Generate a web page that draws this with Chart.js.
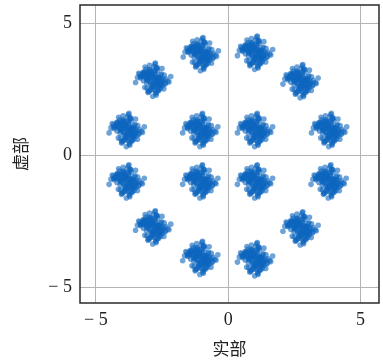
<!DOCTYPE html>
<html>
<head>
<meta charset="utf-8">
<script src="https://cdn.jsdelivr.net/npm/chart.js@4"></script>
<style>
  html, body { margin: 0; padding: 0; background: #fff; }
  #wrap { width: 383px; height: 363px; }
</style>
</head>
<body>
<div id="wrap"><canvas id="c" width="383" height="363"></canvas></div>
<script>
// 16-APSK constellation: ideal symbol positions (real, imaginary)
const centerRe = [-1.05, 1.0, -2.85, 2.72, -3.85, 3.8, -3.85, 3.78, -2.85, 2.72, -1.07, 1.0, -1.07, 1.0, -1.07, 1.0];
const centerIm = [3.83, 3.88, 2.86, 2.8, 0.95, 0.95, -1.0, -1.0, -2.74, -2.78, -3.9, -3.95, 0.95, 0.95, -1.0, -1.0];

// received-sample noise around each symbol
const noiseRe = [
  0.03, -0.20, 0.27, -0.10, 0.43, -0.35, 0.14, -0.03, 0.22, -0.47,
  0.08, 0.33, -0.25, 0.12, -0.14, 0.49, -0.07, 0.18, -0.30, 0.38,
  -0.40, 0.05, -0.17, 0.25, 0.00, -0.53, 0.29, -0.09, 0.16, -0.23,
  0.35, -0.04, 0.10, -0.33, 0.46, -0.18, 0.21, -0.12, 0.57, -0.27,
  0.04, -0.43, 0.23, 0.09, -0.16, 0.31, -0.36, 0.13, -0.01, 0.40,
  -0.22, 0.17, -0.08, 0.26, -0.49, 0.07, 0.34, -0.13, 0.20, -0.31,
  0.12, -0.39, 0.01, 0.48, -0.21, 0.30, -0.05, 0.14, -0.26, 0.36,
  -0.10, 0.61, -0.34, 0.18, -0.46, 0.08, 0.25, -0.17, 0.42, -0.03,
  0.16, -0.29, 0.05, -0.58, 0.33, -0.14, 0.22, 0.68, -0.65, 0.10,
  -0.08, 0.27, -0.38, 0.00, 0.20, -0.23, 0.06, -0.11, 0.15, -0.02,
  0.09, -0.19, 0.24, -0.07, 0.11, -0.15, 0.02, 0.19, -0.04, 0.13,
  -0.09, 0.07, -0.24, 0.31, -0.28, 0.04, -0.01, 0.10, -0.13, 0.17
];
const noiseIm = [
  -0.14, 0.31, 0.07, -0.39, 0.18, -0.03, 0.47, -0.25, -0.35, 0.12,
  0.27, -0.10, 0.40, -0.52, 0.22, 0.04, -0.17, 0.36, -0.29, -0.07,
  0.16, 0.51, -0.44, 0.09, -0.21, 0.25, -0.33, 0.34, 0.01, -0.12,
  0.43, -0.36, 0.20, 0.29, -0.16, -0.48, 0.08, 0.55, -0.04, 0.23,
  -0.26, 0.13, -0.40, 0.35, 0.05, -0.20, 0.30, -0.57, 0.17, 0.00,
  -0.31, 0.46, 0.10, -0.23, 0.21, -0.38, 0.03, 0.39, -0.09, 0.26,
  -0.47, 0.14, 0.33, -0.13, -0.01, 0.18, -0.30, 0.44, 0.12, -0.22,
  0.38, -0.08, 0.25, -0.42, 0.07, 0.60, -0.18, 0.27, -0.34, 0.16,
  -0.05, 0.49, -0.27, 0.09, 0.22, -0.43, 0.04, 0.13, -0.10, 0.64,
  0.31, -0.16, 0.20, -0.62, -0.25, 0.08, 0.04, -0.08, 0.12, 0.18,
  -0.14, 0.02, -0.20, 0.09, -0.03, 0.15, -0.11, 0.06, 0.21, -0.17,
  -0.05, 0.11, 0.03, -0.12, 0.14, -0.22, 0.08, -0.02, 0.19, -0.06
];

const tickValues = [-5, 0, 5];
const tickLabels = ['\u2212 5', '0', '5'];
const xTitle = '实部';
const yTitle = '虚部';

// received samples = symbol + noise
const samples = [];
for (let k = 0; k < centerRe.length; k++) {
  for (let i = 0; i < noiseRe.length; i++) {
    samples.push({ x: centerRe[k] + noiseRe[i], y: centerIm[k] + noiseIm[i] });
  }
}

// closes the plot box on the top and right sides
const frame = {
  id: 'frame',
  afterDraw(chart) {
    const a = chart.chartArea, ctx = chart.ctx;
    ctx.save();
    ctx.strokeStyle = '#2a2a2a';
    ctx.lineWidth = 1.5;
    ctx.strokeRect(a.left, a.top, a.right - a.left, a.bottom - a.top);
    ctx.restore();
  }
};

function tickSetup(scale) {
  scale.ticks = tickValues.map(v => ({ value: v }));
}
function tickLabel(value) {
  const i = tickValues.indexOf(value);
  return i >= 0 ? tickLabels[i] : '';
}

const tickFont = { family: '"Liberation Serif", "Times New Roman", serif', size: 18 };
const titleFont = { family: '"Noto Sans CJK SC", sans-serif', size: 17 };

new Chart(document.getElementById('c'), {
  type: 'scatter',
  data: {
    datasets: [{
      data: samples,
      pointRadius: 2.8,
      pointHoverRadius: 2.8,
      pointBorderWidth: 0,
      pointBackgroundColor: 'rgba(14, 102, 190, 0.6)',
      pointBorderColor: 'rgba(0,0,0,0)'
    }]
  },
  options: {
    responsive: false,
    animation: false,
    events: [],
    layout: { padding: { top: 5, right: 4, left: 0, bottom: 0 } },
    plugins: { legend: { display: false }, tooltip: { enabled: false } },
    scales: {
      x: {
        type: 'linear',
        min: -5.6, max: 5.7,
        afterBuildTicks: tickSetup,
        afterFit(s) { s.height = 60; s.paddingLeft = 0; s.paddingRight = 0; },
        grid: { color: '#b4b4b4', lineWidth: 1, drawTicks: false },
        border: { display: false },
        ticks: { color: '#222', font: tickFont, padding: 6, callback: tickLabel, maxRotation: 0 },
        title: { display: true, text: xTitle, color: '#222', font: titleFont, padding: { top: 4 } }
      },
      y: {
        type: 'linear',
        min: -5.6, max: 5.7,
        afterBuildTicks: tickSetup,
        afterFit(s) { s.width = 80; s.paddingTop = 0; s.paddingBottom = 0; },
        grid: { color: '#b4b4b4', lineWidth: 1, drawTicks: false },
        border: { display: false },
        ticks: { color: '#222', font: tickFont, padding: 8, callback: tickLabel },
        title: { display: true, text: yTitle, color: '#222', font: titleFont, padding: { top: 10, bottom: 20 } }
      }
    }
  },
  plugins: [frame]
});
</script>
</body>
</html>
